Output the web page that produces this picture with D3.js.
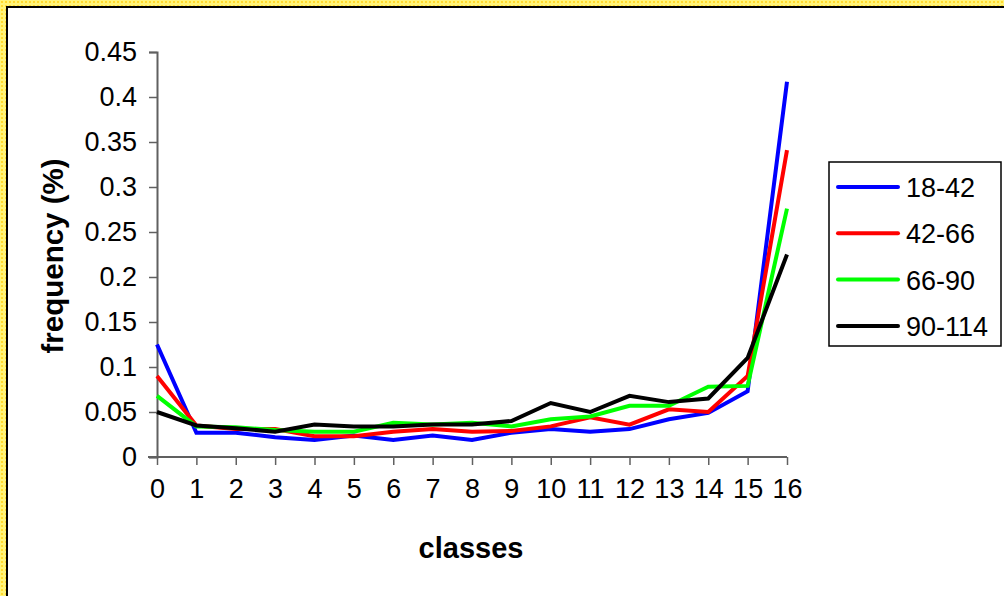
<!DOCTYPE html>
<html>
<head>
<meta charset="utf-8">
<script src="https://cdn.jsdelivr.net/npm/d3@7"></script>
<style>
  body { margin: 0; background: #fff; }
  text { font-family: "Liberation Sans", Arial, sans-serif; }
</style>
</head>
<body>
<div id="chart"></div>
<script>
var classes = d3.range(0, 17);
var seriesNames = ["18-42", "42-66", "66-90", "90-114"];
var seriesColors = ["#0000ff", "#ff0000", "#00ff00", "#000000"];
var yTicks = [0, 0.05, 0.1, 0.15, 0.2, 0.25, 0.3, 0.35, 0.4, 0.45];

var blue  = [0.125, 0.027, 0.027, 0.022, 0.019, 0.024, 0.019, 0.024, 0.019, 0.027, 0.031, 0.028, 0.031, 0.042, 0.049, 0.073, 0.417];
var red   = [0.090, 0.035, 0.031, 0.031, 0.023, 0.023, 0.028, 0.031, 0.028, 0.029, 0.034, 0.044, 0.036, 0.053, 0.050, 0.090, 0.341];
var green = [0.068, 0.034, 0.033, 0.030, 0.028, 0.028, 0.038, 0.036, 0.038, 0.034, 0.042, 0.045, 0.057, 0.057, 0.078, 0.079, 0.276];
var black = [0.050, 0.035, 0.032, 0.028, 0.036, 0.034, 0.034, 0.036, 0.036, 0.040, 0.060, 0.050, 0.068, 0.061, 0.065, 0.110, 0.225];
var allSeries = [blue, red, green, black];

var width = 1004, height = 596;

var svg = d3.select("#chart")
    .append("svg")
    .attr("width", width)
    .attr("height", height);

// yellow dotted frame (top and left only show in the crop)
var defs = svg.append("defs");
var pat = defs.append("pattern")
    .attr("id", "dots")
    .attr("width", 4).attr("height", 4)
    .attr("patternUnits", "userSpaceOnUse");
pat.append("rect").attr("width", 4).attr("height", 4).attr("fill", "#fff47a");
pat.append("rect").attr("x", 1).attr("y", 1).attr("width", 2).attr("height", 2).attr("fill", "#ffd92e");

svg.append("rect").attr("x", 0).attr("y", 0).attr("width", width).attr("height", height).attr("fill", "url(#dots)");
svg.append("rect").attr("x", 7).attr("y", 7).attr("width", width).attr("height", height)
    .attr("fill", "#fff").attr("stroke", "#000").attr("stroke-width", 2);

var x = d3.scaleLinear().domain([0, 16]).range([157, 787]);
var y = d3.scaleLinear().domain([0, 0.45]).range([457, 52]);

// y axis
var yAxis = svg.append("g")
    .attr("transform", "translate(157,0)")
    .call(d3.axisLeft(y).tickValues(yTicks).tickSize(8).tickPadding(12)
        .tickFormat(function(d) { return d3.format("~g")(+d.toFixed(2)); }));
yAxis.select(".domain").attr("stroke", "#606060").attr("stroke-width", 2);
yAxis.selectAll(".tick line").attr("stroke", "#606060").attr("stroke-width", 1.5);
yAxis.selectAll(".tick text").attr("font-size", "27px").attr("fill", "#000")
    .attr("font-family", "Liberation Sans, Arial, sans-serif");

// x axis
var xAxis = svg.append("g")
    .attr("transform", "translate(0,457)")
    .call(d3.axisBottom(x).tickValues(classes).tickSize(8).tickSizeOuter(0).tickPadding(14)
        .tickFormat(d3.format("d")));
xAxis.select(".domain").attr("stroke", "#606060").attr("stroke-width", 2)
    .attr("d", "M148,0H787");
xAxis.selectAll(".tick line").attr("stroke", "#606060").attr("stroke-width", 1.5);
xAxis.selectAll(".tick text").attr("font-size", "27px").attr("fill", "#000")
    .attr("font-family", "Liberation Sans, Arial, sans-serif");

// axis titles
svg.append("text")
    .attr("x", 471).attr("y", 558)
    .attr("text-anchor", "middle")
    .attr("font-size", "29px").attr("font-weight", "bold")
    .text("classes");

svg.append("text")
    .attr("transform", "translate(63,256) rotate(-90)")
    .attr("text-anchor", "middle")
    .attr("font-size", "29.5px").attr("font-weight", "bold")
    .text("frequency (%)");

// lines
var line = d3.line()
    .x(function(d, i) { return x(classes[i]); })
    .y(function(d) { return y(d); });

svg.selectAll(".series")
    .data(allSeries)
    .enter()
    .append("path")
    .attr("class", "series")
    .attr("d", line)
    .attr("fill", "none")
    .attr("stroke", function(d, i) { return seriesColors[i]; })
    .attr("stroke-width", 4)
    .attr("stroke-linejoin", "miter");

// legend
var legend = svg.append("g");
legend.append("rect")
    .attr("x", 829).attr("y", 162).attr("width", 172).attr("height", 184)
    .attr("fill", "#fff").attr("stroke", "#000").attr("stroke-width", 1.5);

var items = legend.selectAll(".item")
    .data(seriesNames)
    .enter()
    .append("g")
    .attr("transform", function(d, i) { return "translate(0," + (187 + i * 46.3) + ")"; });
items.append("line")
    .attr("x1", 838).attr("x2", 898)
    .attr("stroke", function(d, i) { return seriesColors[i]; })
    .attr("stroke-width", 4)
    .attr("stroke-linecap", "round");
items.append("text")
    .attr("x", 906).attr("y", 10)
    .attr("font-size", "27px")
    .text(function(d) { return d; });
</script>
</body>
</html>
